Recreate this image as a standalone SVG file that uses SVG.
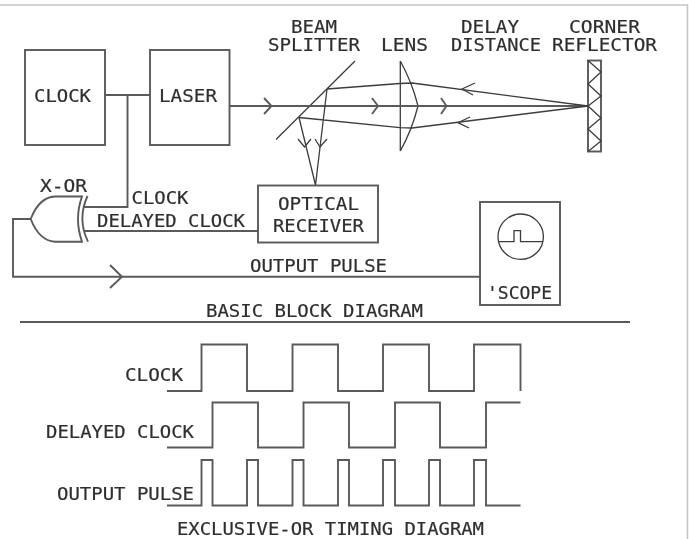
<svg xmlns="http://www.w3.org/2000/svg" width="689" height="539" viewBox="0 0 689 539">
<style>
.l{fill:none;stroke:#3c3c3c;stroke-width:1.3;stroke-linejoin:miter}
.w{stroke-width:1.9;stroke:#5a5a5a}
.t{font-family:"DejaVu Sans Mono","Liberation Mono",monospace;font-size:18px;fill:#2e2e2e;stroke:#2e2e2e;stroke-width:.2}
</style>
<defs>
<filter id="soft" x="-2%" y="-2%" width="104%" height="104%"><feGaussianBlur stdDeviation="0.35"/></filter>
</defs>
<rect width="689" height="539" fill="#fff"/>
<path d="M0 5H687.5V539" fill="none" stroke="#c4c4c4" stroke-width="1.5"/>
<g filter="url(#soft)">
<g id="clock"><rect class="l w" x="25" y="50" width="80" height="95"/><text class="t" x="34" y="101.5" textLength="57" lengthAdjust="spacingAndGlyphs">CLOCK</text></g>
<g id="laser"><rect class="l w" x="150" y="50" width="79.500" height="95"/><text class="t" x="159" y="101.5" textLength="58" lengthAdjust="spacingAndGlyphs">LASER</text></g>
<g id="beam-splitter"><path class="l" d="M276 139.500L355 61"/><text class="t" x="291" y="33" textLength="46" lengthAdjust="spacingAndGlyphs">BEAM</text><text class="t" x="268" y="50.500" textLength="92" lengthAdjust="spacingAndGlyphs">SPLITTER</text></g>
<g id="lens"><path class="l" d="M400.300 61V151M400.300 61Q412 82 418 106Q412 130 400.300 151"/><text class="t" x="381" y="51" textLength="47" lengthAdjust="spacingAndGlyphs">LENS</text></g>
<g id="delay-distance"><text class="t" x="461" y="33" textLength="58" lengthAdjust="spacingAndGlyphs">DELAY</text><text class="t" x="451" y="51" textLength="90" lengthAdjust="spacingAndGlyphs">DISTANCE</text></g>
<g id="corner-reflector"><rect class="l w" x="588" y="60.500" width="13" height="91"/><path class="l" d="M588 60.500L601 72L588 84L601 96L588 106L601 118L588 129L601 141L588 151.500"/><text class="t" x="569" y="33" textLength="71" lengthAdjust="spacingAndGlyphs">CORNER</text><text class="t" x="552" y="51" textLength="105" lengthAdjust="spacingAndGlyphs">REFLECTOR</text></g>
<g id="optical-receiver"><rect class="l w" x="258" y="185.500" width="120" height="57"/><text class="t" x="278" y="209.500" textLength="81" lengthAdjust="spacingAndGlyphs">OPTICAL</text><text class="t" x="273" y="232" textLength="91" lengthAdjust="spacingAndGlyphs">RECEIVER</text></g>
<g id="xor"><path class="l w" d="M82 196.500H55C43 197 35 208 30.700 219C35 230 43 241 55 241.700H82Q74 219 82 196.500Z"/><path class="l w" d="M87.500 196Q77 219 88 241.700"/><text class="t" x="40" y="192" textLength="47" lengthAdjust="spacingAndGlyphs">X-OR</text></g>
<g id="scope"><rect class="l w" x="480" y="202" width="80" height="103"/><circle class="l" cx="520.700" cy="236.700" r="22.700"/><path class="l" d="M498 241.700H514V230.700H520.500V241.700H543"/><text class="t" x="487" y="299" textLength="65" lengthAdjust="spacingAndGlyphs">'SCOPE</text></g>
<g id="connectors">
<path class="l w" d="M105 95H150M127.500 95V207H83M84 231H258M230 106H588M30.700 219H13V276.700H480"/>
<path class="l w" d="M264 98L271.500 106L264 114M372 98L378 106L372 114M441 98L446.500 106L441 114M110 265L122 276.700L110 288"/>
<path class="l" d="M327 89L400 83.500L412 83L588 106L412 128L400 127.700L299 117.500M299 117.500L315.500 185L327 89"/>
<path class="l" d="M298 139L304.500 147L311 139M315 139L320 147L327 139M475 83L462 89L473 95M470 117L458 122.700L469 128"/>
</g>
<g id="timing">
<path class="l w" d="M20 322H630"/>
<path class="l w" d="M167 391H201.500V344.500H247V391H292.500V344.500H338V391H383V344.500H429V391H474V344.500H520.500V391"/>
<path class="l w" d="M167 447.500H212.500V402.500H258V447.500H303.500V402.500H349V447.500H395V402.500H440V447.500H486V402.500H520.500"/>
<path class="l w" d="M167 505.500H201.500V460H212.500V505.500H247V460H258V505.500H292.500V460H303.500V505.500H338V460H349V505.500H383V460H395V505.500H429V460H440V505.500H474V460H486V505.500H520.500"/>
</g>
<g id="labels">
<text class="t" x="131.500" y="204" textLength="57" lengthAdjust="spacingAndGlyphs">CLOCK</text>
<text class="t" x="97" y="227" textLength="148" lengthAdjust="spacingAndGlyphs">DELAYED CLOCK</text>
<text class="t" x="250" y="271.500" textLength="137" lengthAdjust="spacingAndGlyphs">OUTPUT PULSE</text>
<text class="t" x="206" y="317" textLength="217" lengthAdjust="spacingAndGlyphs">BASIC BLOCK DIAGRAM</text>
<text class="t" x="125" y="381" textLength="58" lengthAdjust="spacingAndGlyphs">CLOCK</text>
<text class="t" x="46" y="438" textLength="148" lengthAdjust="spacingAndGlyphs">DELAYED CLOCK</text>
<text class="t" x="57" y="500" textLength="137" lengthAdjust="spacingAndGlyphs">OUTPUT PULSE</text>
<text class="t" x="177" y="535" textLength="307" lengthAdjust="spacingAndGlyphs">EXCLUSIVE-OR TIMING DIAGRAM</text>
</g>
</g>
</svg>
